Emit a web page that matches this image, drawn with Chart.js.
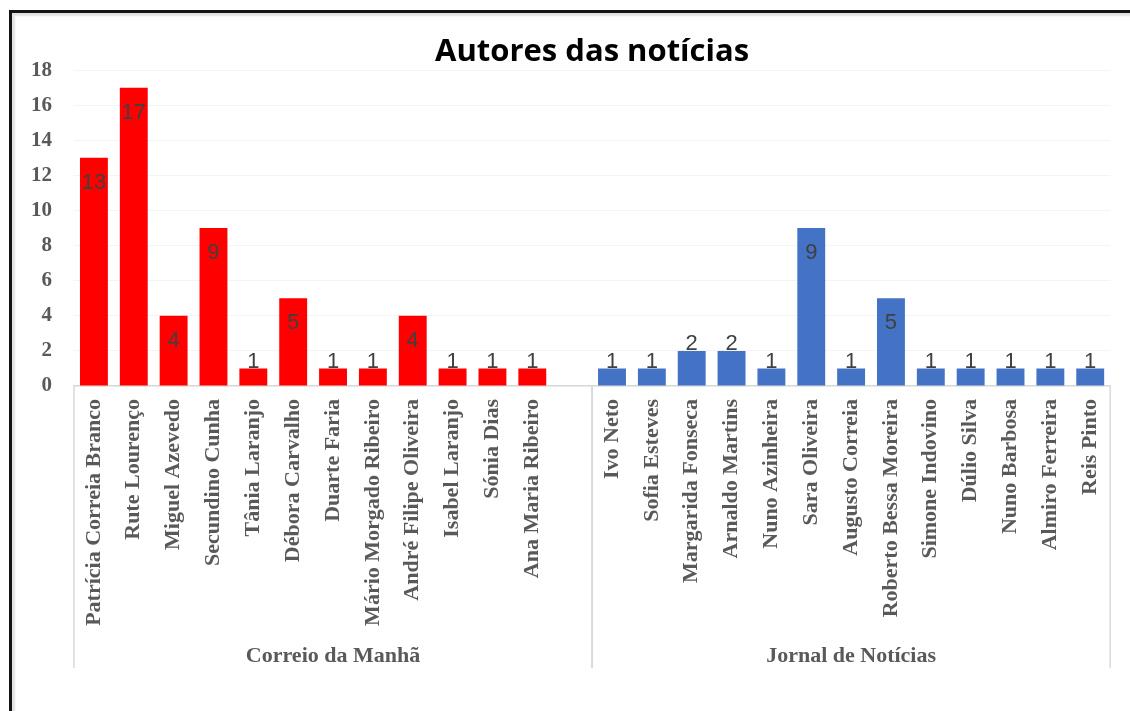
<!DOCTYPE html>
<html>
<head>
<meta charset="utf-8">
<script src="https://cdn.jsdelivr.net/npm/chart.js@4/dist/chart.umd.min.js"></script>
<style>
  html, body { margin: 0; padding: 0; background: #ffffff; overflow: hidden; }
  #frame {
    position: absolute; left: 9px; top: 10px; width: 1300px; height: 900px;
    border-left: 3px solid #141414; border-top: 3px solid #141414;
    box-shadow: inset 3px 3px 2px #e2e2e2;
  }
  #wrap { position: absolute; left: 0; top: 0; width: 1130px; height: 711px; }
</style>
</head>
<body>
<div id="frame"></div>
<div id="wrap"><canvas id="c" width="1130" height="711"></canvas></div>
<script>
// ---- data ----
const chartTitle = 'Autores das notícias';
const groupNames = ['Correio da Manhã', 'Jornal de Notícias'];
const cmAuthors = ['Patrícia Correia Branco', 'Rute Lourenço', 'Miguel Azevedo', 'Secundino Cunha',
  'Tânia Laranjo', 'Débora Carvalho', 'Duarte Faria', 'Mário Morgado Ribeiro',
  'André Filipe Oliveira', 'Isabel Laranjo', 'Sónia Dias', 'Ana Maria Ribeiro'];
const cmValues = [13, 17, 4, 9, 1, 5, 1, 1, 4, 1, 1, 1];
const jnAuthors = ['Ivo Neto', 'Sofia Esteves', 'Margarida Fonseca', 'Arnaldo Martins', 'Nuno Azinheira',
  'Sara Oliveira', 'Augusto Correia', 'Roberto Bessa Moreira', 'Simone Indovino', 'Dúlio Silva',
  'Nuno Barbosa', 'Almiro Ferreira', 'Reis Pinto'];
const jnValues = [1, 1, 2, 2, 1, 9, 1, 5, 1, 1, 1, 1, 1];
const yTicks = [0, 2, 4, 6, 8, 10, 12, 14, 16, 18];

// ---- styling ----
const cmColor = '#ff0000';
const jnColor = '#4472c4';
const tickColor = '#595959';
const serif = '"Liberation Serif", "Times New Roman", serif';

// build the category axis (empty slot separates the two newspapers)
const categories = [...cmAuthors, '', ...jnAuthors];
const values = [...cmValues, null, ...jnValues];
const colors = [...cmAuthors.map(() => cmColor), 'rgba(0,0,0,0)', ...jnAuthors.map(() => jnColor)];
const groups = [
  { name: groupNames[0], start: 0, end: cmAuthors.length },          // includes the gap slot
  { name: groupNames[1], start: cmAuthors.length + 1, end: categories.length - 1 }
];

const valueLabels = {
  id: 'valueLabels',
  afterDatasetsDraw(chart) {
    const ctx = chart.ctx;
    const meta = chart.getDatasetMeta(0);
    const y0 = chart.scales.y.getPixelForValue(0);
    ctx.save();
    ctx.font = '22px "Liberation Sans", Arial, sans-serif';
    ctx.fillStyle = '#404040';
    ctx.textAlign = 'center';
    ctx.textBaseline = 'middle';
    meta.data.forEach((bar, i) => {
      const v = values[i];
      if (v === null || v === undefined) return;
      const h = y0 - bar.y;
      const cy = h >= 60 ? bar.y + 25 : bar.y - 7;
      ctx.fillText(String(v), bar.x, cy);
    });
    ctx.restore();
  }
};

const groupAxis = {
  id: 'groupAxis',
  afterDraw(chart) {
    const ctx = chart.ctx;
    const xs = chart.scales.x;
    const top = chart.chartArea.bottom;
    const lineBottom = chart.height - 43;
    const labelY = chart.height - 55;
    const half = (xs.getPixelForValue(1) - xs.getPixelForValue(0)) / 2;
    ctx.save();
    ctx.strokeStyle = '#d9d9d9';
    ctx.lineWidth = 1.5;
    const edges = new Set();
    groups.forEach(g => {
      edges.add(xs.getPixelForValue(g.start) - half);
      edges.add(xs.getPixelForValue(g.end) + half);
    });
    edges.forEach(x => {
      ctx.beginPath();
      ctx.moveTo(x, top);
      ctx.lineTo(x, lineBottom);
      ctx.stroke();
    });
    ctx.font = 'bold 22px ' + serif;
    ctx.fillStyle = tickColor;
    ctx.textAlign = 'center';
    ctx.textBaseline = 'middle';
    groups.forEach(g => {
      const l = xs.getPixelForValue(g.start) - half;
      const r = xs.getPixelForValue(g.end) + half;
      ctx.fillText(g.name, (l + r) / 2, labelY);
    });
    ctx.restore();
  }
};

new Chart(document.getElementById('c'), {
  type: 'bar',
  data: {
    labels: categories,
    datasets: [{
      data: values,
      backgroundColor: colors,
      borderWidth: 0,
      categoryPercentage: 1.0,
      barPercentage: 0.7
    }]
  },
  options: {
    responsive: false,
    animation: false,
    devicePixelRatio: 1,
    layout: { padding: { left: 0, right: 16, top: 35, bottom: 0 } },
    plugins: {
      legend: { display: false },
      tooltip: { enabled: false },
      title: {
        display: true,
        text: chartTitle,
        fullSize: false,
        color: '#000000',
        font: { family: '"Open Sans", "Liberation Sans", sans-serif', size: 31, weight: 'bold', lineHeight: 1.1 },
        padding: { top: 0, bottom: 1 }
      }
    },
    scales: {
      x: {
        grid: { display: false, drawTicks: false },
        border: { display: true, color: '#d9d9d9', width: 1.5 },
        ticks: {
          autoSkip: false,
          minRotation: 90,
          maxRotation: 90,
          padding: 13,
          color: tickColor,
          font: { family: serif, size: 22, weight: 'bold' }
        },
        afterFit(s) { s.height = 325; }
      },
      y: {
        min: 0,
        max: 18,
        afterBuildTicks(s) { s.ticks = yTicks.map(v => ({ value: v })); },
        grid: { color: '#f4f4f4', lineWidth: 1, drawTicks: false },
        border: { display: false },
        ticks: {
          padding: 22,
          color: tickColor,
          font: { family: serif, size: 21, weight: 'bold' }
        },
        afterFit(s) { s.width = 74; }
      }
    }
  },
  plugins: [valueLabels, groupAxis]
});
</script>
</body>
</html>
